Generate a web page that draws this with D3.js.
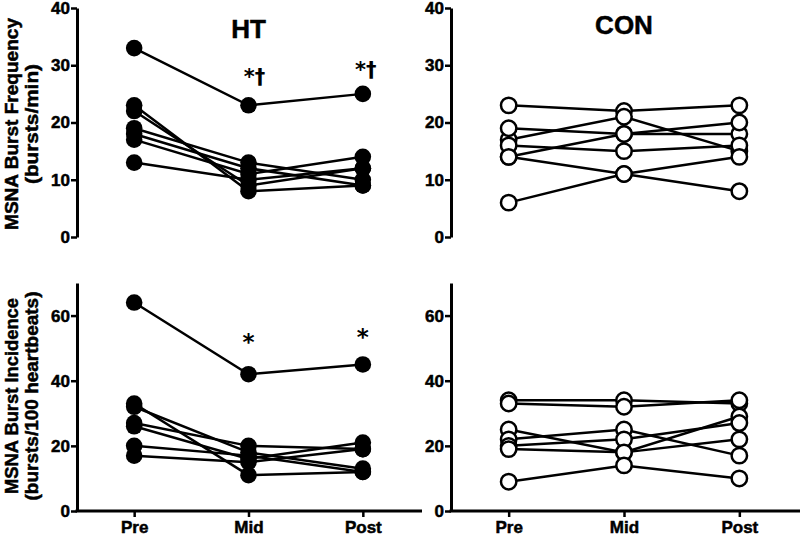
<!DOCTYPE html>
<html>
<head>
<meta charset="utf-8">
<script src="https://cdn.jsdelivr.net/npm/d3@7"></script>
<style>
  html, body { margin: 0; padding: 0; background: #fff; }
  svg { display: block; }
  text { font-family: "Liberation Sans", Arial, sans-serif; font-weight: bold; fill: #000; }
  .heavy { stroke: #000; stroke-width: 0.5px; }
</style>
</head>
<body>
<svg id="chart" width="800" height="537"></svg>
<script>
// ---- data ----
const categories = ["Pre", "Mid", "Post"];
const freqTicks = [0, 10, 20, 30, 40];
const incTicks = [0, 20, 40, 60];

// HT burst frequency (bursts/min), one array per subject: Pre, Mid, Post
const htFreq = [
  [33, 23, 25],
  [23, 8, 9],
  [22, 9, 12],
  [19, 13, 10],
  [18, 12, 9],
  [17, 11, 14],
  [13, 10, 12]
];
// CON burst frequency
const conFreq = [
  [23, 22, 23],
  [17, 21, 15],
  [19, 18, 18],
  [14, 18, 20],
  [16, 15, 16],
  [14, 11, 8],
  [6, 11, 14]
];
// HT burst incidence (bursts/100 heartbeats)
const htInc = [
  [64, 42, 45],
  [33, 11, 12],
  [32, 18, 13],
  [27, 20, 19],
  [26, 16, 21],
  [20, 17, 12],
  [17, 15, 19]
];
// CON burst incidence
const conInc = [
  [34, 34, 33],
  [33, 32, 34],
  [25, 18, 29],
  [22, 25, 17],
  [20, 22, 27],
  [19, 18, 22],
  [9, 14, 10]
];

const titles = ["HT", "CON"];
const freqLabel = ["MSNA Burst Frequency", "(bursts/min)"];
const incLabel = ["MSNA Burst Incidence", "(bursts/100 heartbeats)"];
const freqMarks = ["*†", "*†"];  // Mid, Post
const incMarks = ["*", "*"];

// ---- layout ----
const svg = d3.select("#chart");

const xLeft = d3.scalePoint().domain(categories).range([77, 420]).padding(0.5);
const xRight = d3.scalePoint().domain(categories).range([451, 797]).padding(0.5);
const yFreq = d3.scaleLinear().domain([0, 40]).range([237, 8]);
const yInc = d3.scaleLinear().domain([0, 70]).range([511, 283]);

function styleTickText(sel, size) {
  sel.attr("class", "heavy")
    .style("font-size", size + "px")
    .style("font-family", "'Liberation Sans', Arial, sans-serif")
    .style("font-weight", "bold");
}

function drawPanel(x, y, data, ticks, filled, showX, xEnd) {
  const g = svg.append("g");
  const line = d3.line().x((d, i) => x(categories[i])).y(d => y(d));

  // y axis
  const ya = g.append("g")
    .attr("transform", `translate(${x.range()[0]},0)`)
    .call(d3.axisLeft(y).tickValues(ticks).tickSize(6).tickSizeOuter(0).tickPadding(1));
  ya.select(".domain").attr("stroke-width", 3);
  ya.selectAll(".tick line").attr("stroke-width", 2.5);
  styleTickText(ya.selectAll(".tick text"), 17);

  if (showX) {
    const xa = g.append("g")
      .attr("transform", `translate(0,${y(0)})`)
      .call(d3.axisBottom(x).tickSize(6).tickSizeOuter(0).tickPadding(4));
    xa.select(".domain").attr("d", `M${x.range()[0] - 1.5},0H${xEnd}`).attr("stroke-width", 3);
    xa.selectAll(".tick line").attr("stroke-width", 2.5);
    styleTickText(xa.selectAll(".tick text"), 17);
  }

  g.append("g").selectAll("path").data(data).join("path")
    .attr("d", line)
    .attr("fill", "none")
    .attr("stroke", "#000")
    .attr("stroke-width", 2.5);

  const pts = [];
  data.forEach(s => s.forEach((v, i) => pts.push({ c: categories[i], v })));
  g.append("g").selectAll("circle").data(pts).join("circle")
    .attr("cx", d => x(d.c))
    .attr("cy", d => y(d.v))
    .attr("r", filled ? 8.3 : 7.7)
    .attr("fill", filled ? "#000" : "#fff")
    .attr("stroke", "#000")
    .attr("stroke-width", filled ? 0 : 2.5);
  return g;
}

drawPanel(xLeft, yFreq, htFreq, freqTicks, true, false);
drawPanel(xRight, yFreq, conFreq, freqTicks, false, false);
drawPanel(xLeft, yInc, htInc, incTicks, true, true, 422);
drawPanel(xRight, yInc, conInc, incTicks, false, true, 800);

// titles
svg.append("text").attr("class", "heavy").attr("x", xLeft("Mid")).attr("y", 37.5).attr("text-anchor", "middle")
  .style("font-size", "26px").text(titles[0]);
svg.append("text").attr("class", "heavy").attr("x", xRight("Mid")).attr("y", 33.5).attr("text-anchor", "middle")
  .style("font-size", "26px").text(titles[1]);

// y-axis labels
function yLabel(lines, cy, lens) {
  const t = svg.append("text").attr("class", "heavy").attr("transform", `translate(0,${cy}) rotate(-90)`)
    .attr("text-anchor", "middle").style("font-size", "18px");
  t.append("tspan").attr("x", 0).attr("y", 18).attr("textLength", lens[0]).attr("lengthAdjust", "spacingAndGlyphs").text(lines[0]);
  t.append("tspan").attr("x", 0).attr("y", 38).attr("textLength", lens[1]).attr("lengthAdjust", "spacingAndGlyphs").text(lines[1]);
}
yLabel(freqLabel, 124, [212, 120]);
yLabel(incLabel, 396, [196, 209]);

// significance marks
function mark(txt, x, y, size) {
  svg.append("text").attr("x", x).attr("y", y).attr("text-anchor", "middle")
    .style("font-size", size + "px").style("font-weight", "bold")
    .style("font-family", "'DejaVu Sans', sans-serif").text(txt);
}
mark(freqMarks[0], xLeft("Mid") + 6, 84, 21);
mark(freqMarks[1], xLeft("Post") + 3, 77, 21);
mark(incMarks[0], xLeft("Mid"), 350, 23);
mark(incMarks[1], xLeft("Post"), 345, 23);
</script>
</body>
</html>
